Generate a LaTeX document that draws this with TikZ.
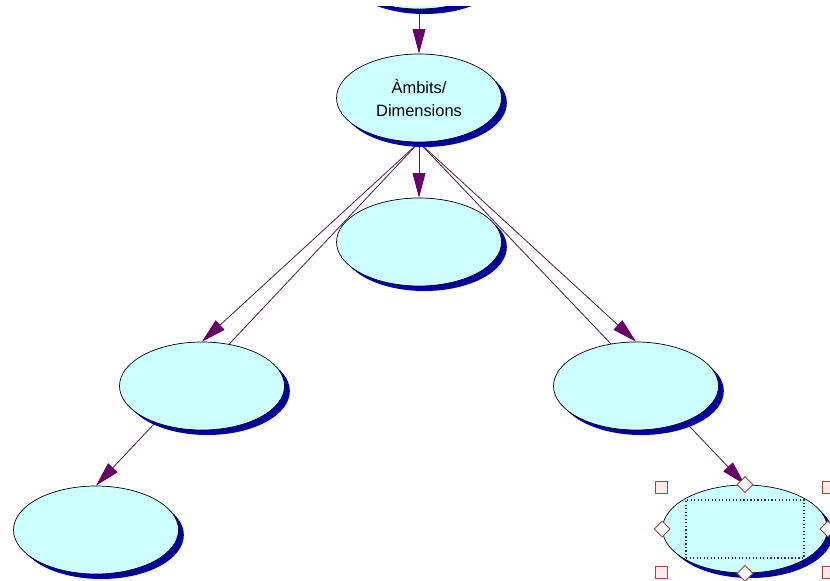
\documentclass[tikz,border=0pt]{standalone}
\usepackage{fontspec}
\setmainfont{Liberation Sans}
\usetikzlibrary{shapes.geometric,shadows,arrows.meta,backgrounds}
\definecolor{conceptfill}{RGB}{204,255,255}
\definecolor{conceptshadow}{RGB}{0,0,160}
\definecolor{linkline}{RGB}{80,30,70}
\definecolor{linktip}{RGB}{102,0,102}
\definecolor{handle}{RGB}{160,70,60}
\definecolor{handlefill}{RGB}{255,235,235}
\definecolor{boxline}{RGB}{40,60,40}
\begin{document}
\begin{tikzpicture}[x=0.03cm, y=-0.03cm,
	concept/.style={ellipse, draw=black, line width=0.6pt, fill=conceptfill, minimum width=4.95cm, minimum height=2.64cm, inner sep=0pt,
		drop shadow={fill=conceptshadow, opacity=1, shadow xshift=0.16cm, shadow yshift=-0.15cm}, font=\fontsize{14}{19}\selectfont, align=center},
	link/.style={draw=linkline, line width=0.7pt, -{Triangle[length=21pt, width=11pt, color=linktip]}},
	corner/.style={draw=handle, fill=handlefill, minimum size=0.36cm, inner sep=0pt, line width=0.8pt},
	grip/.style={diamond, draw=handle, fill=white, minimum size=0.48cm, inner sep=0pt, line width=0.7pt}]
	\useasboundingbox (0,0) rectangle (830,581);
	\begin{scope}
		\clip (0,6) rectangle (830,581);
		\node[concept] (parent) at (419,-35) {};
	\end{scope}
	\node[concept] (ambits) at (419,98) {Àmbits/\\Dimensions};
	\node[concept] (middle) at (419,242) {};
	\node[concept] (left) at (202,386) {};
	\node[concept] (right) at (636,386) {};
	\node[concept] (leftleft) at (96,530) {};
	\node[concept] (rightright) at (745,529) {};
	\begin{pgfonlayer}{background}
		\draw[link] (parent.south) -- (ambits.north);
		\draw[link] (ambits.south) -- (middle.north);
		\draw[link] (ambits.south) -- (left.north);
		\draw[link] (ambits.south) -- (leftleft.north);
		\draw[link] (ambits.south) -- (right.north);
		\draw[link] (ambits.south) -- (rightright.north);
	\end{pgfonlayer}
	\node[draw=boxline, dotted, line width=1pt, minimum width=3.54cm, minimum height=1.74cm] (textbox) at (rightright) {};
	\node[corner] (c-nw) at (661,487) {};
	\node[corner] (c-ne) at (828,487) {};
	\node[corner] (c-sw) at (661,572) {};
	\node[corner] (c-se) at (828,572) {};
	\node[grip] (g-n) at (rightright.north) {};
	\node[grip] (g-s) at (rightright.south) {};
	\node[grip] (g-w) at (rightright.west) {};
	\node[grip] (g-e) at (rightright.east) {};
\end{tikzpicture}
\end{document}
